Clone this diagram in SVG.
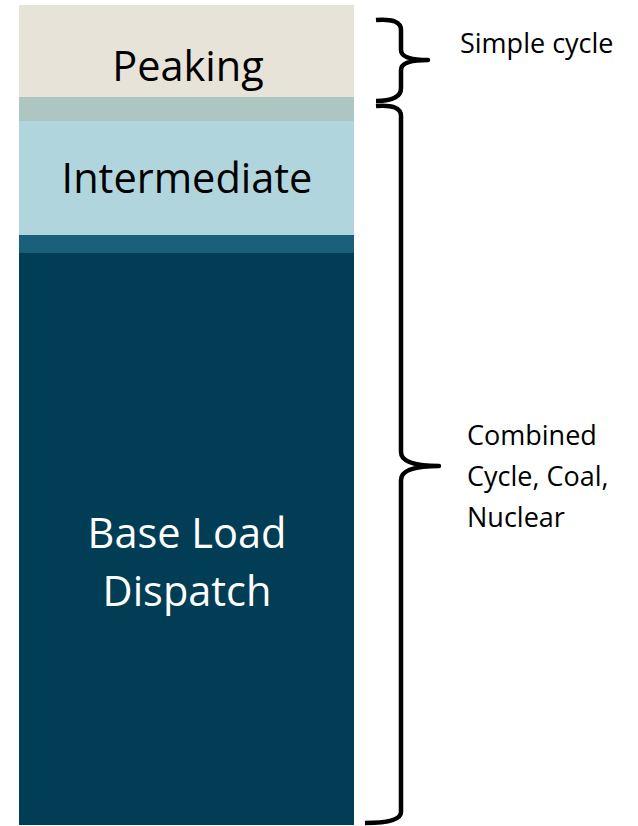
<svg xmlns="http://www.w3.org/2000/svg" width="638" height="826" viewBox="0 0 638 826">
<style>
.lbl{font-family:"Open Sans","Liberation Sans",sans-serif;text-anchor:middle;font-size:41.5px}
.side{font-family:"Open Sans","Liberation Sans",sans-serif;font-size:27px;fill:#000}
.brace{fill:none;stroke:#000;stroke-width:4.5;stroke-linecap:butt;stroke-linejoin:round}
</style>
<rect width="638" height="826" fill="#fff"/>
<g id="peaking">
<rect x="19" y="5" width="335" height="92" fill="#E8E3D8"/>
<text class="lbl" x="188" y="81" fill="#000">Peaking</text>
</g>
<rect id="strip1" x="19" y="97" width="335" height="24" fill="#AEC6C2"/>
<g id="intermediate">
<rect x="19" y="121" width="335" height="114" fill="#B1D5DD"/>
<text class="lbl" x="187" y="193" fill="#000">Intermediate</text>
</g>
<rect id="strip2" x="19" y="235" width="335" height="18" fill="#19607A"/>
<g id="baseload">
<rect x="19" y="253" width="335" height="572" fill="#023D56"/>
<text class="lbl" x="187" y="548" fill="#fff">Base Load</text>
<text class="lbl" x="187" y="606" fill="#fff">Dispatch</text>
</g>
<g id="connectors">
<path class="brace" d="M376,20 Q401,18 401,30 L401,50 Q401,60 428,60 Q401,60 401,70 L401,88 Q401,101 376,101"/>
<path class="brace" d="M376,106 Q401,104 401,116 L401,452 Q401,466 439,466 Q401,466 401,480 L401,812 Q401,823 365,823"/>
</g>
<g id="simple">
<text class="side" x="460" y="53">Simple cycle</text>
</g>
<g id="combined">
<text class="side" x="467" y="445">Combined</text>
<text class="side" x="467" y="486">Cycle, Coal,</text>
<text class="side" x="467" y="527">Nuclear</text>
</g>
</svg>
